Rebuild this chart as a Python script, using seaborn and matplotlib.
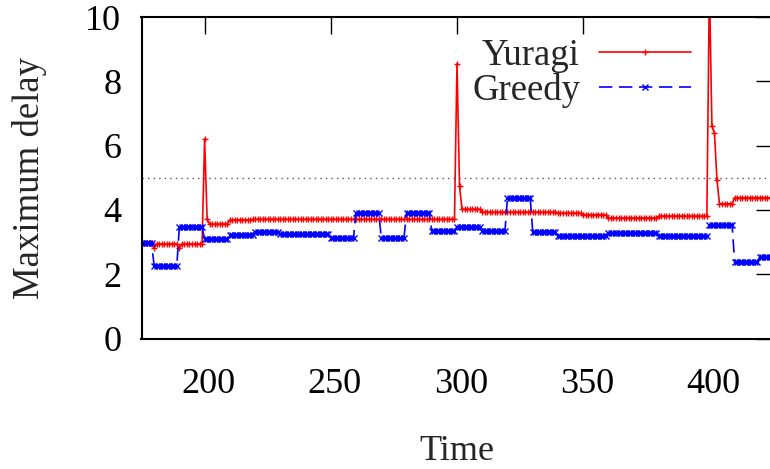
import numpy as np
import pandas as pd
import matplotlib
matplotlib.use("Agg")
import matplotlib.pyplot as plt
import matplotlib.transforms as mtransforms
from matplotlib.lines import Line2D
import seaborn as sns

# ---- data, one sample per time unit ----
time_start = 175
time_end = 425

# Yuragi: step levels and how many consecutive time units each lasts
yuragi_levels = [2.96, 2.81, 2.94, 2.81, 2.94, 6.21, 3.72, 3.56, 3.69, 3.71,
                 8.55, 4.73, 4.02, 3.93, 3.90, 3.85, 3.75, 3.81,
                 11.0, 6.61, 6.40, 4.93, 4.19, 4.38]
yuragi_lengths = [5, 1, 9, 1, 9, 1, 1, 8, 9, 81,
                  1, 1, 8, 30, 10, 10, 20, 20,
                  1, 1, 1, 1, 6, 16]

# Greedy: step levels and lengths
greedy_levels = [2.96, 2.27, 3.48, 3.09, 3.22, 3.33, 3.25, 3.14, 3.90, 3.14,
                 3.90, 3.36, 3.48, 3.34, 4.38, 3.33, 3.19, 3.29, 3.20, 3.52,
                 2.39, 2.55]
greedy_lengths = [5, 10, 10, 10, 10, 10, 20, 10, 10, 10,
                  10, 10, 10, 10, 10, 10, 20, 20, 20, 10,
                  10, 6]

threshold = 5
x_ticks = [200, 250, 300, 350, 400]
y_ticks = [0, 2, 4, 6, 8, 10]

times = np.arange(time_start, time_end + 1)
yuragi = np.repeat(yuragi_levels, yuragi_lengths)
greedy = np.repeat(greedy_levels, greedy_lengths)

df = pd.DataFrame({
    "Time": np.concatenate([times, times]),
    "Maximum delay": np.concatenate([yuragi, greedy]),
    "Method": ["Yuragi"] * len(times) + ["Greedy"] * len(times),
})

# ---- style ----
sns.set_style("white")
plt.rcParams["font.family"] = ["Liberation Serif", "DejaVu Serif"]

fig = plt.figure(figsize=(7.70, 4.69), dpi=100)
ax = fig.add_axes([141.5 / 770, (469 - 338.6) / 469, 631 / 770, 321.6 / 469])

sns.lineplot(data=df, x="Time", y="Maximum delay", hue="Method", style="Method",
             palette={"Yuragi": "#ff0000", "Greedy": "#0000ff"},
             markers={"Yuragi": "+", "Greedy": "x"},
             dashes={"Yuragi": "", "Greedy": (8, 4)},
             markersize=4.5, markeredgewidth=1.0, linewidth=1.2,
             ax=ax, legend=False)
for ln in ax.lines:
    ln.set_markeredgecolor(ln.get_color())
    ln.set_markerfacecolor(ln.get_color())

ax.axhline(threshold, color="#555555", linestyle=(0, (1, 3)), linewidth=1.0, zorder=0)

ax.set_xlim(time_start, time_end)
ax.set_ylim(0, 10)
ax.set_xticks(x_ticks)
ax.set_yticks(y_ticks)

ax.tick_params(axis="both", which="major", direction="in", length=12, width=1.0,
               top=True, right=True, labelsize=26, colors="black")
ax.tick_params(axis="x", pad=21)
ax.tick_params(axis="y", pad=14.5)
shift = mtransforms.ScaledTranslation(4 / 100, 0, fig.dpi_scale_trans)
for lab in ax.get_xticklabels():
    lab.set_transform(lab.get_transform() + shift)
for s in ax.spines.values():
    s.set_color("black")
    s.set_linewidth(1.5)

ax.set_xlabel("Time", fontsize=26)
ax.set_ylabel("Maximum delay", fontsize=26.5)
ax.xaxis.set_label_coords(0.5, -0.30)
ax.yaxis.set_label_coords(-0.15, 0.5)

# legend
handles = [Line2D([], [], color="#ff0000", marker="+", markersize=5, linewidth=1.2),
           Line2D([], [], color="#0000ff", marker="x", markersize=4.5, linewidth=1.2,
                  dashes=(8, 4))]
ax.legend(handles, ["Yuragi", "Greedy"], loc="upper left",
          bbox_to_anchor=((472 - 141.5) / 631, (338.6 - 38) / 321.6),
          frameon=False, markerfirst=False, fontsize=26.5, handlelength=2.5,
          handletextpad=0.52, labelspacing=0.02, borderpad=0, borderaxespad=0)

fig.savefig("out.png", dpi=100)
